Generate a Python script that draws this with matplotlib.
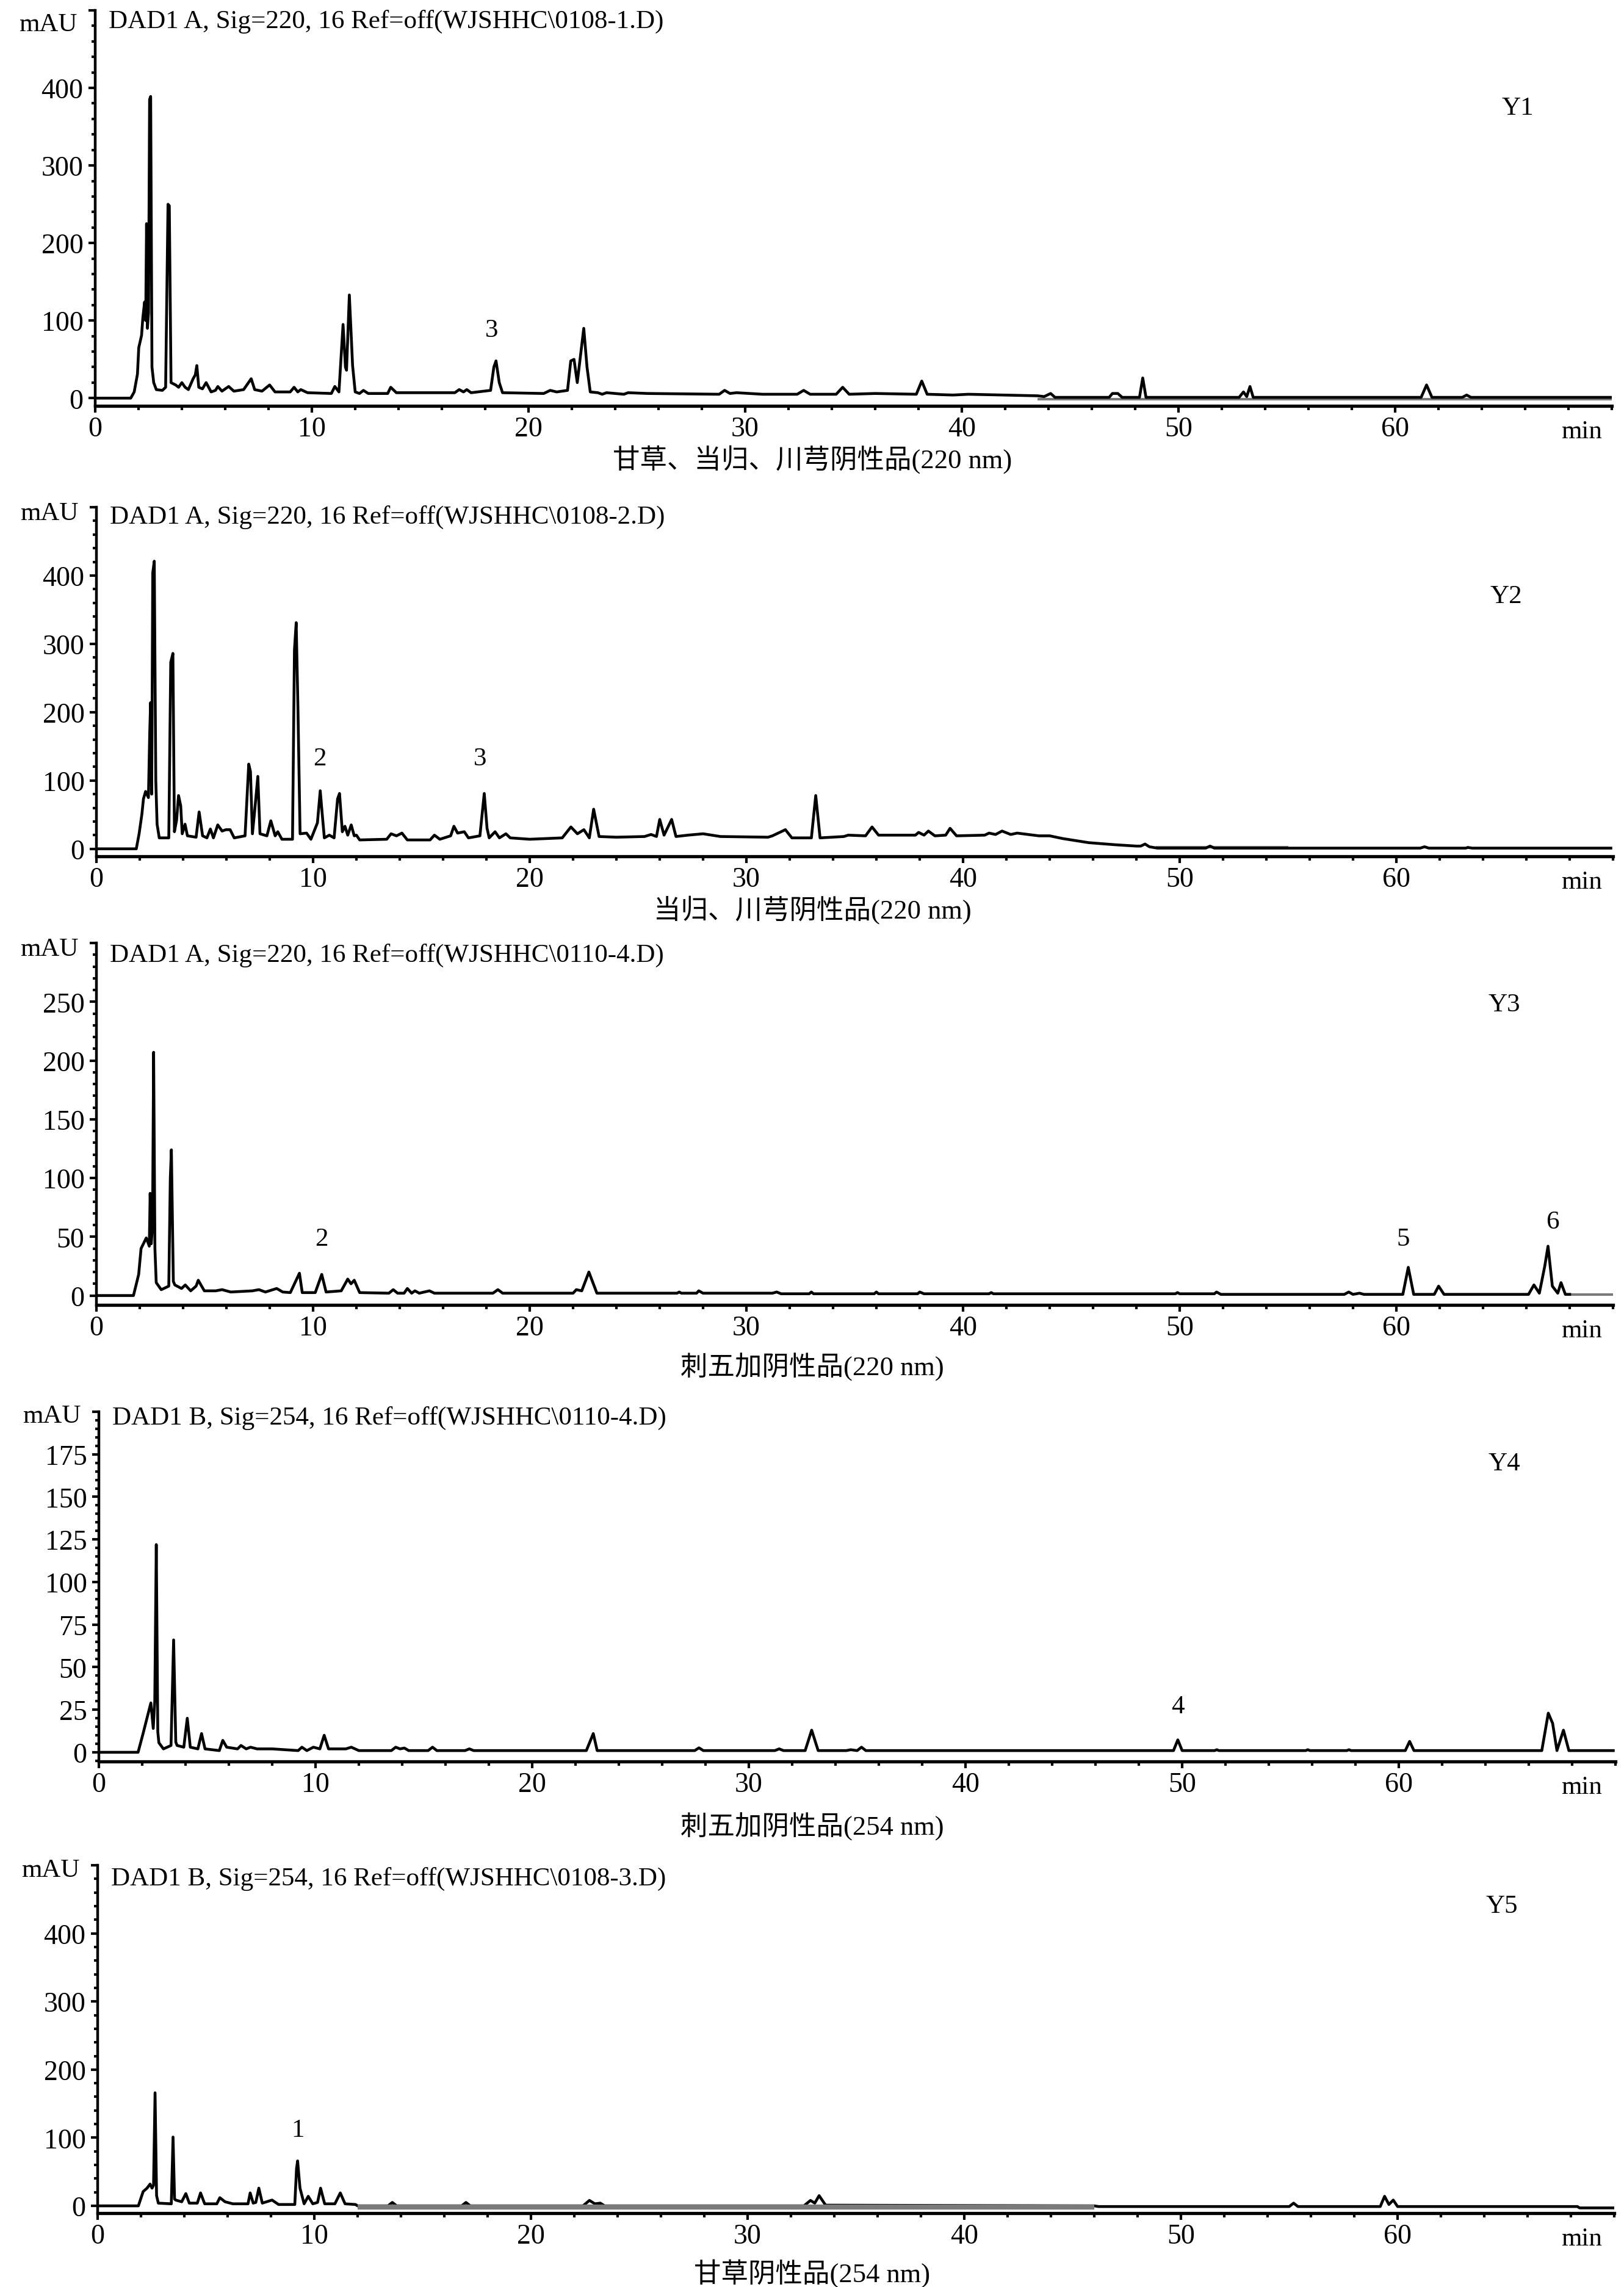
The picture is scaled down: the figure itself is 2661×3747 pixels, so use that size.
import numpy as np
import matplotlib.pyplot as plt
from matplotlib.ticker import MultipleLocator, FixedLocator

plt.rcParams['font.family'] = ['Liberation Serif', 'Noto Sans CJK SC']

W, H = 2661, 3748

# traced chromatograms: (time in min, signal in mAU)
p1_trace = [(0, 0), (1.64, 0), (1.80, 8), (1.95, 31), (2.01, 65), (2.14, 81), (2.20, 104), (2.28, 124),
            (2.33, 100), (2.37, 225), (2.41, 90), (2.46, 110), (2.51, 385), (2.56, 389), (2.62, 40),
            (2.70, 20), (2.82, 11), (3.10, 10), (3.25, 14), (3.36, 250), (3.42, 248), (3.50, 20),
            (3.71, 17), (3.85, 14), (4.0, 20), (4.15, 14), (4.30, 11), (4.52, 25), (4.62, 30), (4.69, 42),
            (4.78, 14), (4.95, 12), (5.12, 20), (5.35, 8), (5.55, 10), (5.66, 15), (5.85, 9), (6.16, 15),
            (6.40, 9), (6.85, 11), (7.2, 25), (7.36, 11), (7.7, 9), (8.05, 17), (8.3, 8), (9.0, 8),
            (9.18, 14), (9.35, 8), (9.49, 11), (9.8, 7), (10.9, 6), (11.06, 15), (11.25, 8), (11.44, 95),
            (11.55, 40), (11.60, 36), (11.73, 133), (11.88, 42), (12.0, 8), (12.2, 6), (12.38, 10),
            (12.6, 6), (13.5, 6), (13.64, 14), (13.9, 7), (16.6, 7), (16.8, 11), (17.0, 8), (17.15, 11),
            (17.35, 7), (18.25, 10), (18.40, 40), (18.5, 48), (18.65, 20), (18.8, 7), (20.7, 6),
            (21.0, 10), (21.3, 8), (21.8, 10), (21.95, 48), (22.1, 50), (22.25, 20), (22.40, 55),
            (22.55, 90), (22.7, 40), (22.85, 8), (23.2, 7), (23.4, 5), (23.6, 7), (24.4, 5), (24.6, 7),
            (25.5, 6), (28.8, 5), (29.05, 10), (29.3, 6), (29.6, 7), (30.8, 5), (32.4, 5), (32.7, 10),
            (33.0, 5), (34.2, 5), (34.5, 14), (34.8, 5), (36.0, 6), (37.9, 5), (38.15, 22), (38.4, 5),
            (39.6, 4), (40.3, 5), (43.5, 3), (43.8, 2), (44.1, 6), (44.3, 1), (46.8, 1), (46.95, 6),
            (47.2, 6), (47.4, 1), (48.2, 1), (48.35, 26), (48.5, 1), (52.8, 1), (53.0, 8), (53.15, 2),
            (53.3, 15), (53.45, 1), (61.2, 1), (61.45, 17), (61.7, 1), (63.1, 1), (63.3, 4), (63.5, 1),
            (70.0, 1)]
p1_ref = [(43.5, -1), (70.0, -1)]

p2_trace = [(0, 0), (1.84, 0), (1.97, 22), (2.10, 51), (2.17, 73), (2.27, 84), (2.40, 75), (2.46, 170),
            (2.50, 214), (2.55, 80), (2.60, 404), (2.67, 421), (2.74, 100), (2.80, 36), (2.90, 16),
            (3.34, 16), (3.43, 273), (3.53, 286), (3.60, 25), (3.70, 42), (3.79, 78), (3.89, 63),
            (3.96, 22), (4.09, 36), (4.20, 19), (4.60, 17), (4.74, 54), (4.90, 19), (5.10, 16), (5.26, 29),
            (5.40, 16), (5.60, 35), (5.80, 26), (5.98, 28), (6.17, 28), (6.36, 16), (6.86, 19), (7.03, 124),
            (7.11, 113), (7.20, 22), (7.30, 54), (7.45, 106), (7.55, 22), (7.87, 19), (8.05, 41),
            (8.25, 19), (8.37, 25), (8.56, 14), (9.05, 14), (9.14, 291), (9.22, 331), (9.30, 208),
            (9.40, 22), (9.70, 23), (9.90, 14), (10.20, 38), (10.33, 85), (10.43, 48), (10.52, 16),
            (10.75, 20), (10.97, 16), (11.13, 73), (11.22, 81), (11.35, 25), (11.47, 33), (11.60, 20),
            (11.76, 35), (11.90, 19), (12.0, 20), (12.15, 13), (13.4, 14), (13.6, 22), (13.85, 19),
            (14.1, 23), (14.35, 13), (15.4, 13), (15.6, 20), (15.85, 14), (16.35, 19), (16.5, 33),
            (16.67, 23), (16.98, 25), (17.17, 16), (17.7, 19), (17.9, 81), (18.03, 30), (18.13, 16),
            (18.4, 25), (18.6, 16), (18.9, 22), (19.1, 16), (20.0, 14), (21.5, 16), (21.9, 32), (22.2, 22),
            (22.5, 28), (22.75, 16), (22.95, 58), (23.2, 18), (24.0, 17), (25.3, 18), (25.6, 21),
            (25.85, 18), (26.0, 43), (26.2, 20), (26.55, 43), (26.75, 18), (27.3, 20), (28.0, 22),
            (28.8, 18), (31.0, 17), (31.2, 19), (31.8, 28), (32.1, 16), (33.0, 16), (33.2, 78), (33.4, 16),
            (34.5, 18), (34.7, 20), (35.5, 19), (35.8, 32), (36.1, 20), (37.8, 20), (37.95, 24), (38.2, 20),
            (38.4, 26), (38.7, 19), (39.2, 20), (39.4, 30), (39.7, 19), (41.0, 20), (41.2, 23), (41.5, 21),
            (41.8, 26), (42.2, 21), (42.5, 23), (43.5, 19), (44.0, 19), (44.6, 15), (45.8, 9), (47.0, 6),
            (48.0, 4), (48.2, 4), (48.4, 7), (48.6, 3), (48.97, 1), (51.2, 1), (51.4, 4), (51.6, 1),
            (61.1, 1), (61.3, 3), (61.5, 1), (63.2, 1), (63.3, 2), (63.5, 1), (69.9, 1)]
p2_ref = [(48.9, 2), (55.0, 2)]

p3_trace = [(0, 0), (1.71, 0), (1.95, 18), (2.06, 40), (2.30, 49), (2.44, 42), (2.48, 87), (2.53, 44),
            (2.59, 60), (2.64, 207), (2.70, 40), (2.76, 11), (2.99, 5), (3.34, 8), (3.41, 100), (3.46, 124),
            (3.55, 12), (3.62, 9), (3.93, 6), (4.10, 9), (4.35, 4), (4.60, 8), (4.70, 13), (4.98, 4),
            (5.5, 4), (5.8, 5), (6.2, 3), (7.2, 4), (7.5, 5), (7.8, 3), (8.32, 6), (8.6, 3), (8.95, 2.5),
            (9.37, 19), (9.5, 2.5), (10.1, 2.5), (10.4, 18), (10.6, 3), (11.3, 4), (11.6, 14), (11.75, 10),
            (11.9, 13), (12.15, 2.5), (13.5, 2), (13.7, 5), (13.9, 2), (14.2, 2), (14.35, 6), (14.55, 2),
            (14.7, 4), (14.9, 2), (15.37, 4), (15.6, 2), (18.3, 2), (18.53, 5), (18.75, 2), (22.0, 2),
            (22.15, 5), (22.4, 4), (22.73, 20), (23.1, 2), (26.8, 2), (26.9, 3), (27.0, 2), (27.7, 2),
            (27.8, 4), (28.0, 2), (31.2, 2), (31.4, 3), (31.6, 1.5), (32.9, 1.5), (33.0, 3), (33.1, 1.5),
            (35.9, 1.5), (36.0, 3), (36.1, 1.5), (37.9, 1.5), (38.0, 3), (38.2, 1.5), (41.2, 1.5),
            (41.3, 2.5), (41.4, 1.5), (49.8, 1.5), (49.9, 2.5), (50.0, 1.5), (51.6, 1.5), (51.7, 3),
            (51.9, 1), (57.6, 1), (57.8, 3), (58.0, 1), (58.3, 2), (58.5, 1), (60.3, 1), (60.55, 24),
            (60.8, 1), (61.75, 1), (61.95, 8), (62.2, 1), (64.0, 1), (66.1, 1), (66.35, 9), (66.6, 2),
            (66.85, 25), (67.0, 42), (67.2, 8), (67.45, 2), (67.6, 11), (67.8, 1), (68.0, 1)]
p3_ref = [(68.0, 1), (70.0, 1)]

p4_trace = [(0, 0), (1.81, 0), (2.04, 11), (2.28, 23), (2.40, 29), (2.51, 14), (2.58, 30), (2.65, 122),
            (2.72, 12), (2.77, 5.6), (2.98, 2), (3.33, 4), (3.45, 66), (3.55, 6), (3.61, 4), (3.92, 3),
            (4.08, 20), (4.22, 3), (4.57, 2), (4.74, 11), (4.90, 2), (5.56, 1), (5.72, 7), (5.90, 3),
            (6.4, 2), (6.56, 4), (6.8, 2), (7.0, 3), (7.3, 2), (8.0, 2), (9.2, 1), (9.37, 3), (9.6, 1),
            (9.9, 3), (10.2, 2), (10.4, 10), (10.6, 2), (11.4, 2), (11.65, 3), (12.0, 1), (13.5, 1),
            (13.7, 3), (13.9, 2), (14.1, 2.5), (14.3, 1), (15.2, 1), (15.4, 3), (15.6, 1), (16.9, 1),
            (17.1, 2), (17.3, 1), (22.5, 1), (22.82, 11), (23.0, 1), (27.5, 1), (27.7, 2.6), (27.9, 1),
            (31.2, 1), (31.4, 2), (31.6, 1), (32.6, 1), (32.9, 13), (33.2, 1), (34.5, 1), (34.7, 1.5),
            (35.0, 1), (35.2, 3), (35.4, 1), (49.6, 1), (49.8, 7.3), (50.0, 1), (51.5, 1), (51.6, 1.5),
            (51.7, 1), (55.7, 1), (55.8, 1.5), (55.9, 1), (57.6, 1), (57.7, 1.5), (57.8, 1), (60.3, 1),
            (60.5, 6.4), (60.7, 1), (66.6, 1), (66.9, 23), (67.1, 17), (67.3, 1), (67.6, 13), (67.85, 1),
            (69.9, 1)]

p5_trace = [(0, 0), (1.88, 0), (2.10, 21), (2.28, 26), (2.42, 32), (2.51, 26), (2.58, 30), (2.65, 166),
            (2.72, 15), (2.80, 4), (3.40, 3), (3.48, 101), (3.55, 10), (3.60, 8.5), (3.88, 6), (4.07, 18),
            (4.23, 4), (4.60, 4), (4.75, 19), (4.94, 3), (5.5, 3), (5.64, 12), (5.88, 6), (6.24, 3),
            (6.94, 3), (7.04, 19), (7.18, 4), (7.30, 5), (7.44, 26), (7.60, 4), (8.05, 8.5), (8.35, 2),
            (9.10, 2), (9.18, 55), (9.23, 66), (9.30, 40), (9.34, 26), (9.53, 3), (9.72, 14), (9.93, 3),
            (10.15, 5), (10.29, 26), (10.48, 3), (10.95, 3), (11.2, 19), (11.42, 3), (11.9, 2), (12.0, 0),
            (13.4, 0), (13.6, 5), (13.8, 0), (16.8, 0), (17.0, 5), (17.2, 0), (22.4, 0), (22.7, 8),
            (22.95, 3), (23.2, 4), (23.4, 0), (32.6, 0), (32.9, 8), (33.1, 4), (33.3, 15), (33.6, 1),
            (46.0, 0), (46.2, -1), (55.0, -1), (55.2, 4), (55.4, -1), (59.2, -1), (59.4, 14), (59.6, 2),
            (59.8, 8.5), (60.0, -1), (68.3, -1), (68.4, -3), (70.0, -3)]
p5_ref = [(12.0, -1.5), (46.0, -1.5)]

titles = ['DAD1 A, Sig=220, 16 Ref=off(WJSHHC\\0108-1.D)',
          'DAD1 A, Sig=220, 16 Ref=off(WJSHHC\\0108-2.D)',
          'DAD1 A, Sig=220, 16 Ref=off(WJSHHC\\0110-4.D)',
          'DAD1 B, Sig=254, 16 Ref=off(WJSHHC\\0110-4.D)',
          'DAD1 B, Sig=254, 16 Ref=off(WJSHHC\\0108-3.D)']
sample_names = ['Y1', 'Y2', 'Y3', 'Y4', 'Y5']
captions = ['甘草、当归、川芎阴性品(220 nm)', '当归、川芎阴性品(220 nm)', '刺五加阴性品(220 nm)',
            '刺五加阴性品(254 nm)', '甘草阴性品(254 nm)']
y_tops = [500, 500, 300, 200, 500]
y_majors = [100, 100, 50, 25, 100]
y_minors = [20, 20, 10, 5, 20]
peak_labels = [[('3', 18.3, 88)],
               [('2', 10.3, 132), ('3', 17.7, 132)],
               [('2', 10.4, 48), ('5', 60.3, 48), ('6', 67.2, 63)],
               [('4', 49.8, 27)],
               [('1', 9.25, 111)]]

traces = [p1_trace, p2_trace, p3_trace, p4_trace, p5_trace]
refs = [p1_ref, p2_ref, p3_ref, None, p5_ref]

# layout in pixels: left, top, bottom(axis line), ymin, title baseline, caption centre, name centre
layout = [
    dict(left=156, top=18, bottom=666, ymin=-10, title_y=46, mau_y=51, cap_y=753, name=(2487, 178)),
    dict(left=158, top=832, bottom=1404, ymin=-11, title_y=858, mau_y=852, cap_y=1491, name=(2468, 978)),
    dict(left=158, top=1546, bottom=2139, ymin=-8, title_y=1576, mau_y=1566, cap_y=2240, name=(2465, 1647)),
    dict(left=162, top=2314, bottom=2887, ymin=-5.4, title_y=2334, mau_y=2331, cap_y=2993, name=(2465, 2399)),
    dict(left=160, top=3057, bottom=3627, ymin=-10.7, title_y=3089, mau_y=3075, cap_y=3725, name=(2461, 3124)),
]
PX_PER_MIN = 35.5
XMAX = 70.0

fig = plt.figure(figsize=(W / 100, H / 100), dpi=100)


def fx(px):
    return px / W


def fy(py):
    return 1 - py / H


for i in range(5):
    lay = layout[i]
    right = lay['left'] + XMAX * PX_PER_MIN
    ax = fig.add_axes([fx(lay['left']), fy(lay['bottom']), (right - lay['left']) / W,
                       (lay['bottom'] - lay['top']) / H])
    t = [p[0] for p in traces[i]]
    y = [p[1] for p in traces[i]]
    if refs[i] is not None:
        rt = [p[0] for p in refs[i]]
        ry = [p[1] for p in refs[i]]
        lw = 6 if i == 4 else 3
        ax.plot(rt, ry, color='#7a7a7a', lw=lw, solid_capstyle='butt', zorder=3 if i == 4 else 1)
    ax.plot(t, y, color='black', lw=3.3, zorder=2)

    ax.set_xlim(0, XMAX)
    ax.set_ylim(lay['ymin'], y_tops[i])
    for s in ['top', 'right']:
        ax.spines[s].set_visible(False)
    ax.spines['left'].set_linewidth(3.2)
    ax.spines['bottom'].set_linewidth(3.8)

    ax.xaxis.set_major_locator(FixedLocator([0, 10, 20, 30, 40, 50, 60]))
    ax.xaxis.set_minor_locator(FixedLocator(np.arange(2, 71, 2)))
    yt = list(np.arange(0, y_tops[i], y_majors[i])) + [y_tops[i]]
    ax.set_yticks(yt)
    ax.set_yticklabels([str(int(v)) for v in yt[:-1]] + [''])
    ax.yaxis.set_minor_locator(MultipleLocator(y_minors[i]))
    ax.tick_params(axis='x', which='major', direction='out', length=8, width=3, pad=4, labelsize=33)
    ax.tick_params(axis='x', which='minor', direction='out', length=5, width=3)
    ax.tick_params(axis='y', which='major', direction='out', length=8, width=3, pad=6, labelsize=33)
    ax.tick_params(axis='y', which='minor', direction='out', length=4, width=3)
    ax.patch.set_alpha(0)

    for lab, lx, ly in peak_labels[i]:
        ax.text(lx, ly, lab, ha='center', va='center', fontsize=31)

    fig.text(fx(lay['left'] + 22), fy(lay['title_y']), titles[i], ha='left', va='baseline', fontsize=31)
    fig.text(fx(lay['left'] - 30), fy(lay['mau_y']), 'mAU', ha='right', va='baseline', fontsize=31)
    fig.text(fx(lay['name'][0]), fy(lay['name'][1]), sample_names[i], ha='center', va='center', fontsize=31)
    fig.text(fx(2625), fy(lay['bottom'] + 52), 'min', ha='right', va='baseline', fontsize=31)
    fig.text(fx(1331), fy(lay['cap_y']), captions[i], ha='center', va='center', fontsize=32)

fig.savefig('out.png', dpi=100, facecolor='white')
